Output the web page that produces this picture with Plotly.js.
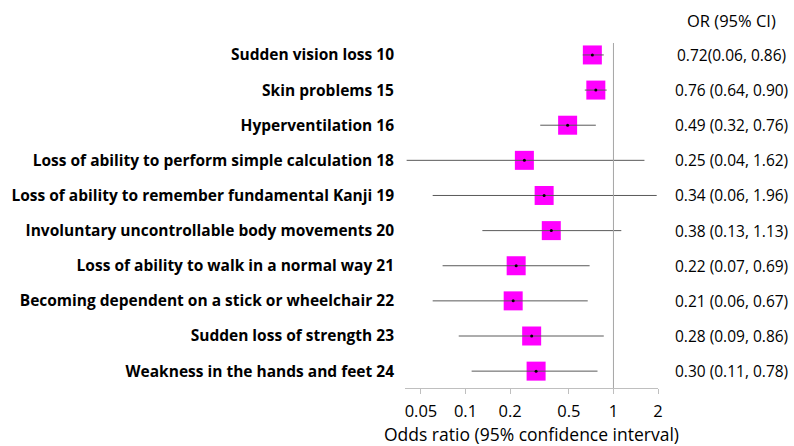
<!DOCTYPE html>
<html><head><meta charset="utf-8">
<script src="https://cdn.plot.ly/plotly-3.0.1.min.js"></script>
<style>body{margin:0;background:#fff}#c{width:794px;height:446px}</style>
</head><body><div id="c"></div>
<script>
const labels = ["Sudden vision loss 10","Skin problems 15","Hyperventilation 16","Loss of ability to perform simple calculation 18","Loss of ability to remember fundamental Kanji 19","Involuntary uncontrollable body movements 20","Loss of ability to walk in a normal way 21","Becoming dependent on a stick or wheelchair 22","Sudden loss of strength 23","Weakness in the hands and feet 24"];
const oddsRatio = [0.72,0.76,0.49,0.25,0.34,0.38,0.22,0.21,0.28,0.30];
const ciLower = [0.62,0.64,0.32,0.04,0.06,0.13,0.07,0.06,0.09,0.11];
const ciUpper = [0.86,0.90,0.76,1.62,1.96,1.13,0.69,0.67,0.86,0.78];
const orText = ["0.72(0.06, 0.86)","0.76 (0.64, 0.90)","0.49 (0.32, 0.76)","0.25 (0.04, 1.62)","0.34 (0.06, 1.96)","0.38 (0.13, 1.13)","0.22 (0.07, 0.69)","0.21 (0.06, 0.67)","0.28 (0.09, 0.86)","0.30 (0.11, 0.78)"];
const tickVals = [0.05,0.1,0.2,0.5,1,2];
const tickText = ["0.05","0.1","0.2","0.5","1","2"];

const F = 'Open Sans, sans-serif';
const idx = labels.map((_,i)=>i);
const squares = {x: oddsRatio, y: idx, type:'scatter', mode:'markers', hoverinfo:'skip',
  marker:{symbol:'square', size:19, color:'#FF00FF', line:{width:0}}};
const ci = {x: oddsRatio, y: idx, type:'scatter', mode:'markers', hoverinfo:'skip',
  marker:{symbol:'circle', size:3, color:'#000'},
  error_x:{type:'data', symmetric:false, array: ciUpper.map((u,i)=>u-oddsRatio[i]),
    arrayminus: ciLower.map((l,i)=>oddsRatio[i]-l), width:0, thickness:1, color:'#5a5a5a'}};

const annotations = orText.map((t,i)=>({x:1.29, xref:'paper', y:i, yref:'y', text:t, showarrow:false,
  font:{family:F, size:15.5, color:'#000'}, xanchor:'center'}));
annotations.push({x:1.29, xref:'paper', y:1, yref:'paper', yanchor:'middle', yshift:23, text:'OR (95% CI)', showarrow:false,
  font:{family:F, size:16.5, color:'#000'}, xanchor:'center'});

const layout = {
  width:794, height:446, margin:{l:405, r:136, t:43, b:58},
  paper_bgcolor:'#fff', plot_bgcolor:'#fff', showlegend:false,
  xaxis:{type:'log', range:[Math.log10(0.039), Math.log10(2.0)], tickvals:tickVals, ticktext:tickText,
    showgrid:false, zeroline:false, showline:true, linecolor:'#bfbfbf', linewidth:1,
    ticks:'outside', ticklen:5, tickcolor:'#bfbfbf', ticklabelstandoff:3,
    tickfont:{family:F, size:16.5, color:'#000'},
    title:{text:'Odds ratio (95% confidence interval)', standoff:3, font:{family:F, size:17.5, color:'#000'}}},
  yaxis:{range:[9.48,-0.34], tickvals:idx, ticktext:labels.map(s=>'<b>'+s+'</b>'),
    showgrid:false, zeroline:false, showline:false, ticks:'', ticklabelstandoff:10,
    tickfont:{family:F, size:15.5, color:'#000'}},
  shapes:[{type:'line', xref:'x', yref:'paper', x0:1, x1:1, y0:0, y1:1, line:{color:'#a6a6a6', width:1}}],
  annotations: annotations
};
Plotly.newPlot('c',[squares, ci], layout, {staticPlot:true, displayModeBar:false});
</script></body></html>
